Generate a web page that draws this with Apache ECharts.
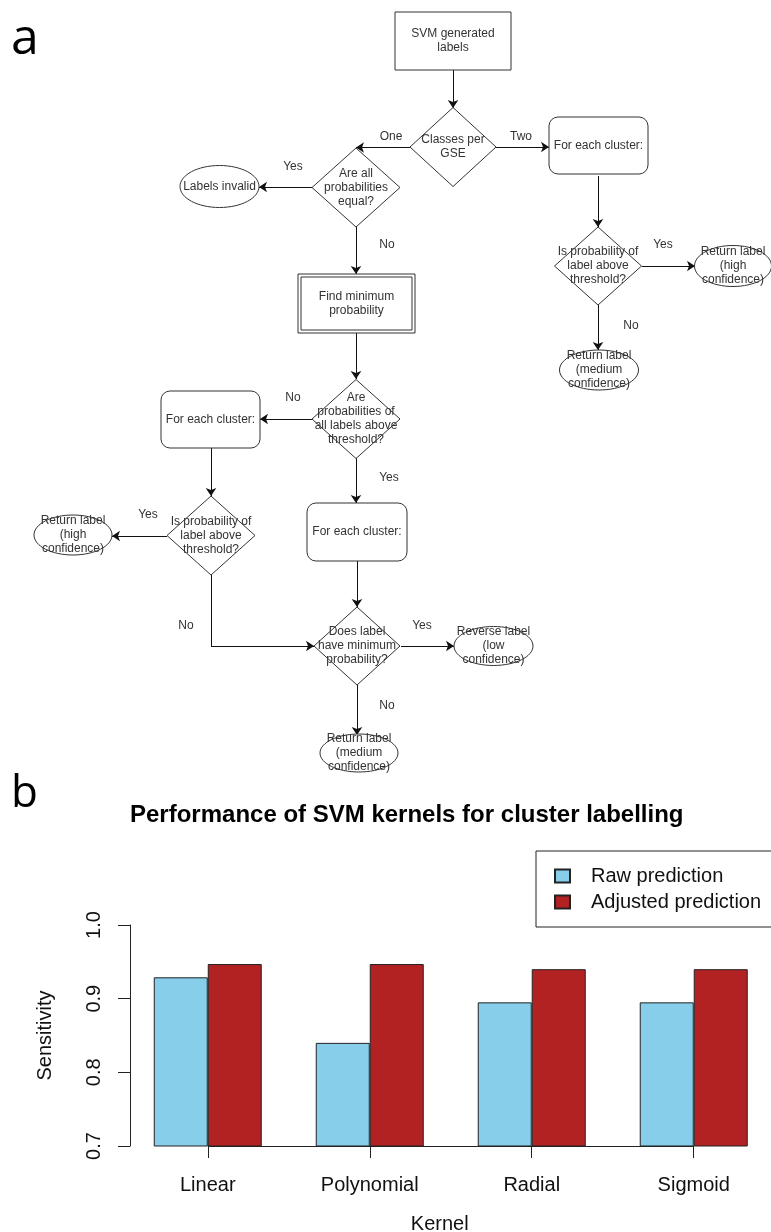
<!DOCTYPE html>
<html>
<head>
<meta charset="utf-8">
<script src="https://cdn.jsdelivr.net/npm/echarts@6.0.0/dist/echarts.min.js"></script>
<style>
html, body { margin: 0; padding: 0; background: #fff; }
#main { width: 771px; height: 1232px; }
</style>
</head>
<body>
<div id="main"></div>
<script>
// ---- panel b: bar chart data ----
const kernels = ['Linear', 'Polynomial', 'Radial', 'Sigmoid']
const rawPrediction = [0.929, 0.840, 0.895, 0.895]
const adjustedPrediction = [0.947, 0.947, 0.940, 0.940]
const yTicks = [0.7, 0.8, 0.9, 1.0]

// ---- panel a: flowchart content ----
const nodeText = [
  'SVM generated\nlabels',
  'Classes per\nGSE',
  'For each cluster:',
  'Is probability of\nlabel above\nthreshold?',
  'Return label\n(high\nconfidence)',
  'Return label\n(medium\nconfidence)',
  'Are all\nprobabilities\nequal?',
  'Labels invalid',
  'Find minimum\nprobability',
  'Are\nprobabilities of\nall labels above\nthreshold?',
  'For each cluster:',
  'Is probability of\nlabel above\nthreshold?',
  'Return label\n(high\nconfidence)',
  'For each cluster:',
  'Does label\nhave minimum\nprobability?',
  'Reverse label\n(low\nconfidence)',
  'Return label\n(medium\nconfidence)',
]
const nodeShape = [
  'rect', 'diamond', 'round', 'diamond', 'ellipse', 'ellipse',
  'diamond', 'ellipse', 'double', 'diamond', 'round', 'diamond',
  'ellipse', 'round', 'diamond', 'ellipse', 'ellipse',
]
// [from, to, label]
const flowEdges = [
  [0, 1, ''], [1, 6, 'One'], [1, 2, 'Two'], [2, 3, ''], [3, 4, 'Yes'],
  [3, 5, 'No'], [6, 7, 'Yes'], [6, 8, 'No'], [8, 9, ''], [9, 10, 'No'],
  [9, 13, 'Yes'], [10, 11, ''], [11, 12, 'Yes'], [11, 14, 'No'],
  [13, 14, ''], [14, 15, 'Yes'], [14, 16, 'No'],
]

// ---- flowchart layout (page pixels) ----
// node box: [centerX, centerY, width, height]
const nodeBox = [
  [453, 41, 116, 58], [453, 147, 86, 79], [598.5, 145.5, 99, 57], [598, 266, 87, 78],
  [733, 266, 77, 41], [599, 370, 79, 40], [356, 187.5, 88, 79], [219.5, 186.5, 79, 42],
  [356.5, 303.5, 117, 59], [356, 419, 88, 79], [210.5, 419.5, 99, 57], [211, 535.5, 88, 79],
  [73, 535, 78, 40], [357, 532, 100, 58], [357, 646, 86, 78], [493.5, 646, 79, 39],
  [359, 753, 78, 38],
]
const edgeRoute = [
  [[453, 70], [453, 108]], [[410, 147.5], [356, 147.5]], [[496, 147], [549, 147]],
  [[598, 176], [598, 227]], [[642, 266], [695, 266]], [[598, 305], [598, 350]],
  [[312, 187], [259, 187]], [[356, 227], [356, 274]], [[356, 333], [356, 379]],
  [[312, 419], [260, 419]], [[356, 458], [356, 503]], [[211, 448], [211, 496]],
  [[167, 536], [112, 536]], [[211, 575], [211, 646], [314, 646]], [[357, 561], [357, 607]],
  [[401, 646], [454, 646]], [[357, 685], [357, 735]],
]
const edgeLabelPos = [
  null, [391, 137], [521, 137], null, [663, 245], [631, 326], [293, 167], [387, 245],
  null, [293, 398], [389, 478], null, [148, 515], [186, 626], null, [422, 626], [387, 706],
]

const FONT = 'Liberation Sans, Arial, Helvetica, sans-serif'

// split routes: plain leading segments + one arrowed last segment
const plainSegs = []
const arrowSegs = []
edgeRoute.forEach(r => {
  for (let k = 0; k < r.length - 2; k++) plainSegs.push({ coords: [r[k], r[k + 1]] })
  arrowSegs.push({ coords: [r[r.length - 2], r[r.length - 1]] })
})
const edgeLabels = []
flowEdges.forEach((e, i) => {
  if (e[2]) edgeLabels.push({ value: edgeLabelPos[i], name: e[2] })
})

function renderNode(params, api) {
  const i = params.dataIndex
  const c = api.coord([api.value(0), api.value(1)])
  const s = api.size([api.value(2), api.value(3)])
  const w = Math.abs(s[0]), h = Math.abs(s[1])
  const x = c[0] - w / 2, y = c[1] - h / 2
  const st = { fill: '#fff', stroke: '#333', lineWidth: 1 }
  const kids = []
  const kind = nodeShape[i]
  if (kind === 'rect') {
    kids.push({ type: 'rect', shape: { x, y, width: w, height: h }, style: st })
  } else if (kind === 'round') {
    kids.push({ type: 'rect', shape: { x, y, width: w, height: h, r: 9 }, style: st })
  } else if (kind === 'double') {
    kids.push({ type: 'rect', shape: { x, y, width: w, height: h }, style: st })
    kids.push({ type: 'rect', shape: { x: x + 3, y: y + 3, width: w - 6, height: h - 6 }, style: st })
  } else if (kind === 'diamond') {
    kids.push({
      type: 'polygon',
      shape: { points: [[c[0], y], [x + w, c[1]], [c[0], y + h], [x, c[1]]] },
      style: st,
    })
  } else {
    kids.push({ type: 'ellipse', shape: { cx: c[0], cy: c[1], rx: w / 2, ry: h / 2 }, style: st })
  }
  kids.push({
    type: 'text',
    style: {
      text: nodeText[i], x: c[0], y: c[1], align: 'center', verticalAlign: 'middle',
      fontSize: 12, fontFamily: FONT, fill: '#333', lineHeight: 14,
    },
  })
  return { type: 'group', children: kids }
}

function renderEdgeLabel(params, api) {
  const c = api.coord([api.value(0), api.value(1)])
  return {
    type: 'text',
    style: {
      text: edgeLabels[params.dataIndex].name, x: c[0], y: c[1], align: 'center',
      verticalAlign: 'middle', fontSize: 12, fontFamily: FONT, fill: '#333',
    },
  }
}

const chart = echarts.init(document.getElementById('main'))

let option = {
  animation: false,
  backgroundColor: '#fff',
  textStyle: { fontFamily: FONT },
  title: [
    {
      text: 'Performance of SVM kernels for cluster labelling',
      left: 130, top: 803, padding: 0,
      textStyle: { fontFamily: FONT, fontSize: 24, fontWeight: 'bold', color: '#000' },
    },
    { text: 'a', left: 11, top: 15, padding: 0, textStyle: { fontFamily: 'Open Sans', fontSize: 50, fontWeight: 'normal', color: '#000' } },
    { text: 'b', left: 11, top: 772, padding: 0, textStyle: { fontFamily: 'Open Sans', fontSize: 44, fontWeight: 'normal', color: '#000' } },
  ],
  legend: {
    data: ['Raw prediction', 'Adjusted prediction'],
    orient: 'vertical',
    left: 536, top: 851,
    padding: [15, 40, 15, 18],
    itemWidth: 15, itemHeight: 13, itemGap: 6,
    icon: 'rect',
    borderColor: '#222', borderWidth: 1, borderRadius: 0,
    textStyle: { fontFamily: FONT, fontSize: 20, color: '#111', lineHeight: 20, padding: [0, 0, 0, 16] },
  },
  grid: [
    { left: 130, top: 925, width: 641.5, height: 221, outerBoundsMode: 'none', containLabel: false },
    { left: 0, top: 0, width: 771, height: 1232, outerBoundsMode: 'none', containLabel: false },
  ],
  xAxis: [
    {
      type: 'value', gridIndex: 0, min: 0.56, max: 12.44,
      name: 'Kernel', nameLocation: 'middle', nameGap: 68,
      nameTextStyle: { fontFamily: FONT, fontSize: 20, color: '#111', padding: [0, 22, 0, 0] },
      axisLine: { show: false },
      splitLine: { show: false },
      axisTick: { show: true, length: 12, customValues: kernels.map((k, i) => 3 * i + 2), lineStyle: { color: '#222', width: 1 } },
      axisLabel: {
        show: true, margin: 29, fontSize: 20, color: '#111', fontFamily: FONT,
        customValues: kernels.map((k, i) => 3 * i + 2),
        formatter: v => kernels[Math.round((v - 2) / 3)],
      },
    },
    { type: 'value', gridIndex: 1, min: 0, max: 771, show: false },
  ],
  yAxis: [
    {
      type: 'value', gridIndex: 0, min: yTicks[0], max: yTicks[yTicks.length - 1], interval: 0.1,
      name: 'Sensitivity', nameLocation: 'middle', nameGap: 75, nameRotate: 90,
      nameTextStyle: { fontFamily: FONT, fontSize: 20, color: '#111' },
      axisLine: { show: true, lineStyle: { color: '#222', width: 1 } },
      axisTick: { show: true, length: 12, lineStyle: { color: '#222', width: 1 } },
      splitLine: { show: false },
      axisLabel: { rotate: 90, margin: 26, fontSize: 20, color: '#111', fontFamily: FONT, formatter: v => v.toFixed(1) },
    },
    { type: 'value', gridIndex: 1, min: 0, max: 1232, inverse: true, show: false },
  ],
  series: [
    {
      name: 'Raw prediction', type: 'bar', xAxisIndex: 0, yAxisIndex: 0,
      data: rawPrediction.map((v, i) => [3 * i + 1.5, v]),
      barWidth: 54, barGap: '-100%', startValue: yTicks[0],
      itemStyle: { color: '#87CEEB', borderColor: '#222', borderWidth: 1 },
      markLine: {
        silent: true, symbol: 'none', label: { show: false },
        lineStyle: { color: '#222', width: 1, type: 'solid' },
        data: [[{ coord: [2, yTicks[0]] }, { coord: [3 * (kernels.length - 1) + 2, yTicks[0]] }]],
      },
    },
    {
      name: 'Adjusted prediction', type: 'bar', xAxisIndex: 0, yAxisIndex: 0,
      data: adjustedPrediction.map((v, i) => [3 * i + 2.5, v]),
      barWidth: 54, barGap: '-100%', startValue: yTicks[0],
      itemStyle: { color: '#B22222', borderColor: '#222', borderWidth: 1 },
    },
    {
      type: 'lines', coordinateSystem: 'cartesian2d', xAxisIndex: 1, yAxisIndex: 1,
      symbol: 'none', silent: true,
      lineStyle: { color: '#111', width: 1, opacity: 1, curveness: 0 },
      data: plainSegs,
    },
    {
      type: 'lines', coordinateSystem: 'cartesian2d', xAxisIndex: 1, yAxisIndex: 1,
      symbol: ['none', 'arrow'], symbolSize: 8, silent: true,
      lineStyle: { color: '#111', width: 1, opacity: 1, curveness: 0 },
      data: arrowSegs,
    },
    {
      type: 'custom', coordinateSystem: 'cartesian2d', xAxisIndex: 1, yAxisIndex: 1,
      silent: true, renderItem: renderNode, data: nodeBox,
    },
    {
      type: 'custom', coordinateSystem: 'cartesian2d', xAxisIndex: 1, yAxisIndex: 1,
      silent: true, renderItem: renderEdgeLabel, data: edgeLabels,
    },
  ],
}

chart.setOption(option)
</script>
</body>
</html>
